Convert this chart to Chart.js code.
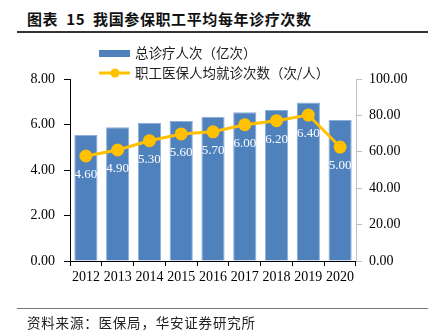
<!DOCTYPE html>
<html>
<head>
<meta charset="utf-8">
<script src="https://cdn.jsdelivr.net/npm/chart.js@4"></script>
<style>
  body { margin: 0; background: #fff; }
  #wrap { position: relative; width: 428px; height: 334px; overflow: hidden; }
  #title { position: absolute; left: 27px; top: 8px; font: bold 15px "Noto Sans CJK SC"; color: #111; white-space: pre; letter-spacing: 0.6px; }
  #line1 { position: absolute; left: 17px; top: 31px; width: 411px; height: 1.5px; background: #333; }
  #line2 { position: absolute; left: 17px; top: 308px; width: 411px; height: 1px; background: #777; }
  #source { position: absolute; left: 27px; top: 312px; font: 13.5px "Noto Sans CJK SC"; color: #222; white-space: nowrap; letter-spacing: 0.8px; }
  canvas { position: absolute; left: 0; top: 0; }
</style>
</head>
<body>
<div id="wrap">
  <div id="title">图表  15  我国参保职工平均每年诊疗次数</div>
  <div id="line1"></div>
  <canvas id="myChart" width="428" height="334"></canvas>
  <div id="line2"></div>
  <div id="source">资料来源：医保局，华安证券研究所</div>
</div>
<script>
const years = ['2012', '2013', '2014', '2015', '2016', '2017', '2018', '2019', '2020'];
const totalVisits = [5.54, 5.88, 6.08, 6.15, 6.34, 6.54, 6.64, 6.97, 6.2];
const perCapita = [57.7, 61.0, 66.1, 69.8, 71.0, 74.9, 77.1, 80.2, 62.6];
const pointLabels = ['4.60', '4.90', '5.30', '5.60', '5.70', '6.00', '6.20', '6.40', '5.00'];

const blue = '#4F81BD';
const yellow = '#FFC000';
const serif = '"Liberation Serif", "Times New Roman", serif';

// white labels under the line points
const pointLabelPlugin = {
    id: 'pointLabels',
    afterDatasetsDraw(chart) {
        const ctx = chart.ctx;
        const meta = chart.getDatasetMeta(0);
        ctx.save();
        ctx.fillStyle = '#fff';
        ctx.font = '13px ' + serif;
        ctx.textAlign = 'center';
        ctx.textBaseline = 'middle';
        meta.data.forEach((pt, i) => {
            ctx.fillText(pointLabels[i], pt.x, pt.y + 19);
        });
        ctx.restore();
    }
};

// legend in two rows above the plot
const legendPlugin = {
    id: 'twoRowLegend',
    afterDraw(chart) {
        const ctx = chart.ctx;
        const ds = chart.data.datasets;
        ctx.save();
        ctx.font = '13.5px "Noto Sans CJK SC"';
        ctx.textBaseline = 'middle';
        ctx.fillStyle = blue;
        ctx.fillRect(99, 50, 31, 7);
        ctx.fillStyle = '#222';
        ctx.fillText(ds[1].label, 135, 53);

        ctx.strokeStyle = yellow;
        ctx.lineWidth = 3;
        ctx.beginPath();
        ctx.moveTo(99, 73);
        ctx.lineTo(130, 73);
        ctx.stroke();
        ctx.fillStyle = yellow;
        ctx.beginPath();
        ctx.arc(115, 73, 4.5, 0, Math.PI * 2);
        ctx.fill();
        ctx.fillStyle = '#222';
        ctx.fillText(ds[0].label, 135, 73);
        ctx.restore();
    }
};

const myChart = new Chart(
    document.getElementById('myChart'),
    {
        data: {
            labels: years,
            datasets: [{
                type: 'line',
                label: '职工医保人均就诊次数（次/人）',
                data: perCapita,
                yAxisID: 'y1',
                borderColor: yellow,
                backgroundColor: yellow,
                borderWidth: 3,
                pointRadius: 5,
                pointHoverRadius: 5,
                tension: 0,
                order: 0
            }, {
                type: 'bar',
                label: '总诊疗人次（亿次）',
                data: totalVisits,
                yAxisID: 'y',
                backgroundColor: blue,
                borderColor: '#8DAEDA',
                borderWidth: 1,
                barPercentage: 0.73,
                categoryPercentage: 1,
                order: 1
            }]
        },
        options: {
            responsive: false,
            animation: false,
            layout: { padding: { top: 79, left: 0, right: 0, bottom: 0 } },
            plugins: {
                legend: { display: false },
                tooltip: { enabled: false }
            },
            scales: {
                x: {
                    offset: true,
                    grid: { offset: true, drawOnChartArea: false, tickLength: 5, color: '#000' },
                    border: { color: '#000' },
                    ticks: { color: '#000', font: { family: serif, size: 14 }, padding: 3, maxRotation: 0 },
                    afterFit(scale) { scale.height = 73; }
                },
                y: {
                    position: 'left',
                    min: 0, max: 8,
                    grid: { drawOnChartArea: false, tickLength: 6, color: '#000' },
                    border: { color: '#000' },
                    ticks: {
                        stepSize: 2, color: '#000', padding: 9,
                        font: { family: serif, size: 14 },
                        callback: v => v.toFixed(2)
                    },
                    afterFit(scale) { scale.width = 70; }
                },
                y1: {
                    position: 'right',
                    min: 0, max: 100,
                    grid: { drawOnChartArea: false, tickLength: 6, color: '#bfbfbf' },
                    border: { color: '#bfbfbf' },
                    ticks: {
                        stepSize: 20, color: '#000', padding: 7,
                        font: { family: serif, size: 14 },
                        callback: v => v.toFixed(2)
                    },
                    afterFit(scale) { scale.width = 72; }
                }
            }
        },
        plugins: [pointLabelPlugin, legendPlugin]
    }
);
</script>
</body>
</html>
